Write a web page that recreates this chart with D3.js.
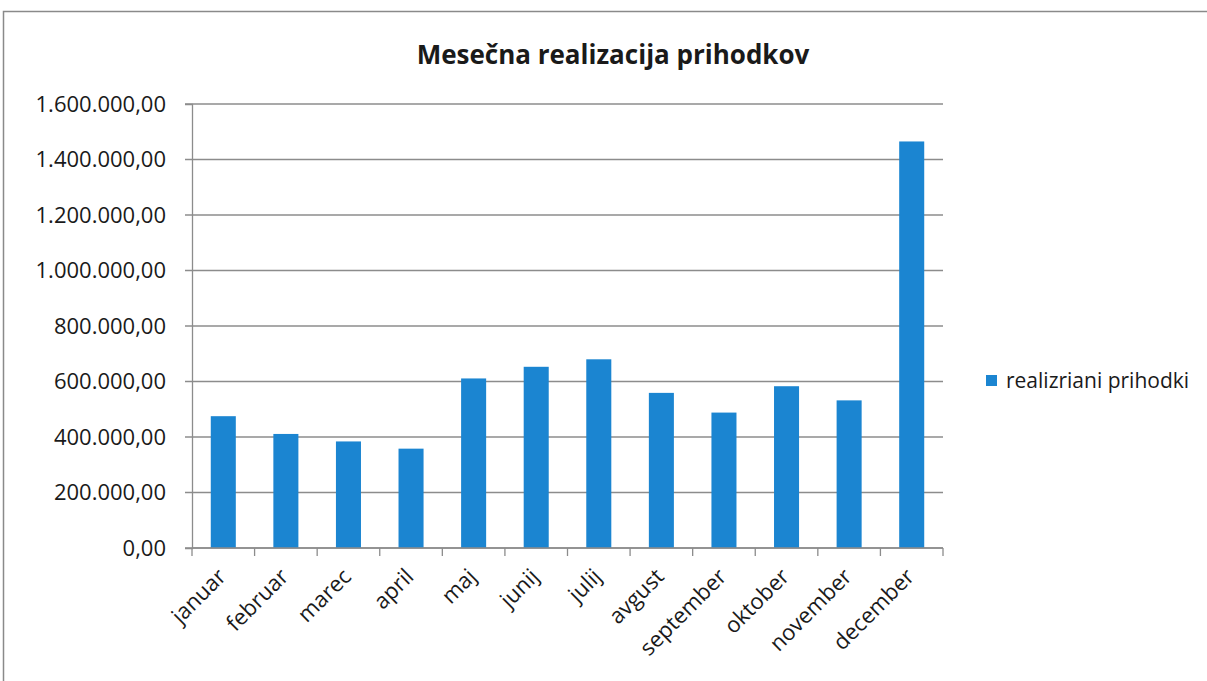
<!DOCTYPE html>
<html>
<head>
<meta charset="utf-8">
<script src="https://cdn.jsdelivr.net/npm/d3@7"></script>
<style>
  body { margin: 0; background: #fff; }
  text { font-family: "Open Sans", "Noto Sans", sans-serif; fill: #1a1a1a; }
</style>
</head>
<body>
<div id="chart"></div>
<script>
"use strict";

// podatki
var months = ["januar", "februar", "marec", "april", "maj", "junij", "julij",
              "avgust", "september", "oktober", "november", "december"];
var revenue = [475000, 411000, 384000, 358000, 611000, 653000, 680000,
               559000, 488000, 583000, 532000, 1465000];
var yTicks = [0, 200000, 400000, 600000, 800000, 1000000, 1200000, 1400000, 1600000];
var seriesName = "realizriani prihodki";
var chartTitle = "Mesečna realizacija prihodkov";

var svg = d3.select("#chart").append("svg")
    .attr("width", 1207)
    .attr("height", 681),
    margin = { top: 104, right: 264, bottom: 133, left: 192 },
    width = +svg.attr("width") - margin.left - margin.right,
    height = +svg.attr("height") - margin.top - margin.bottom;

// okvir
svg.append("rect")
    .attr("x", 3.5).attr("y", 11.5)
    .attr("width", 1220).attr("height", 700)
    .attr("fill", "none")
    .attr("stroke", "#8a8a8a")
    .attr("stroke-width", 1.5);

svg.append("text")
    .attr("x", 613).attr("y", 64)
    .attr("text-anchor", "middle")
    .style("font-size", "26px")
    .style("font-weight", "bold")
    .text(chartTitle);

var sl = d3.formatLocale({ decimal: ",", thousands: ".", grouping: [3], currency: ["", ""] });
var fmt = sl.format(",.2f");

var x = d3.scaleBand().domain(months).range([0, width]).paddingInner(0.6).paddingOuter(0.3),
    xb = d3.scaleLinear().domain([0, months.length]).range([0, width]),
    y = d3.scaleLinear().domain([0, 1600000]).range([height, 0]);

var g = svg.append("g")
    .attr("transform", "translate(" + margin.left + "," + margin.top + ")");

// mreza
g.selectAll(".grid")
    .data(yTicks)
    .enter().append("line")
    .attr("x1", -7).attr("x2", width)
    .attr("y1", function (d) { return y(d); })
    .attr("y2", function (d) { return y(d); })
    .attr("stroke", "#8c8c8c")
    .attr("stroke-width", 1.3);

g.selectAll(".bar")
    .data(revenue)
    .enter().append("rect")
    .attr("class", "bar")
    .attr("x", function (d, i) { return x(months[i]); })
    .attr("y", function (d) { return y(d); })
    .attr("width", x.bandwidth())
    .attr("height", function (d) { return height - y(d); })
    .attr("fill", "#1b85d1");

// y os
var yAxis = g.append("g")
    .call(d3.axisLeft(y).tickValues(yTicks).tickFormat(fmt).tickSize(7).tickPadding(19));
yAxis.select(".domain").attr("stroke", "#8c8c8c").attr("stroke-width", 1.3);
yAxis.selectAll(".tick line").attr("stroke", "none");
yAxis.selectAll("text").style("font-size", "22px").attr("fill", "#1a1a1a");

// x os
g.append("line")
    .attr("x1", 0).attr("x2", width)
    .attr("y1", height).attr("y2", height)
    .attr("stroke", "#8c8c8c").attr("stroke-width", 1.3);
g.selectAll(".xtick")
    .data(d3.range(months.length + 1))
    .enter().append("line")
    .attr("x1", function (d) { return xb(d); })
    .attr("x2", function (d) { return xb(d); })
    .attr("y1", height).attr("y2", height + 8)
    .attr("stroke", "#8c8c8c").attr("stroke-width", 1.3);

g.selectAll(".xlabel")
    .data(months)
    .enter().append("text")
    .attr("text-anchor", "end")
    .attr("transform", function (d) {
        return "translate(" + (x(d) + x.bandwidth() / 2 + 4) + "," + (height + 30) + ") rotate(-45)";
    })
    .style("font-size", "22px")
    .text(function (d) { return d; });

// legenda
var leg = svg.append("g").attr("transform", "translate(986,375)");
leg.append("rect").attr("width", 11).attr("height", 11).attr("fill", "#1b85d1");
leg.append("text").attr("x", 20).attr("y", 13)
    .style("font-size", "21px")
    .text(seriesName);
</script>
</body>
</html>
